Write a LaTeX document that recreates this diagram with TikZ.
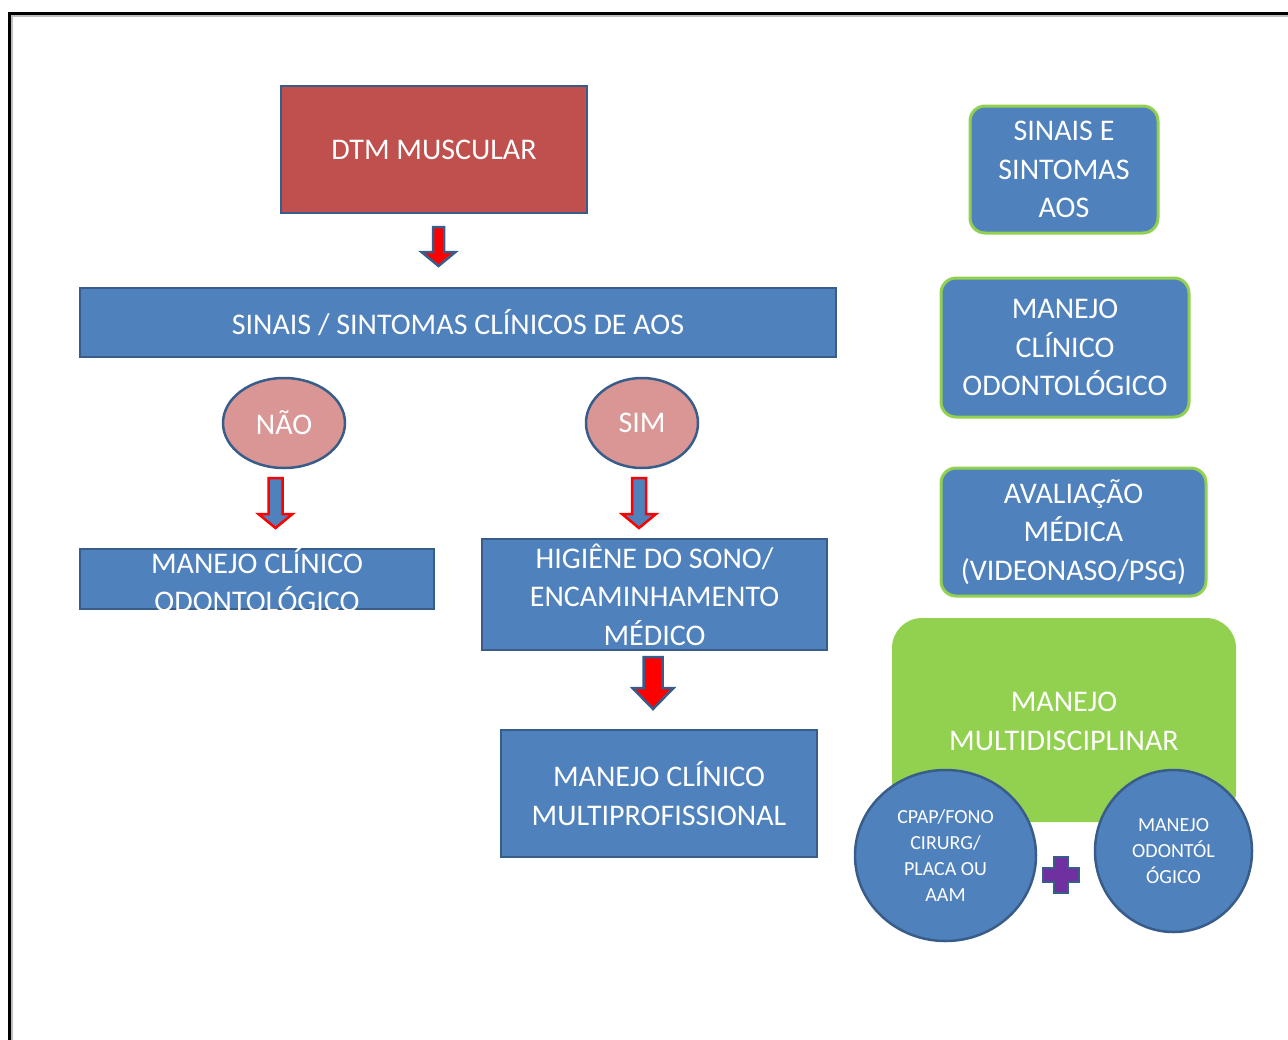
\documentclass[tikz,border=0pt]{standalone}
\usepackage{fontspec}
\setmainfont{Carlito}
\usetikzlibrary{shapes.geometric}
\definecolor{bluefill}{HTML}{4F81BD}
\definecolor{blueline}{HTML}{385D8A}
\definecolor{redfill}{HTML}{C0504D}
\definecolor{pinkfill}{HTML}{D99694}
\definecolor{greenfill}{HTML}{92D050}
\definecolor{purplefill}{HTML}{7030A0}
\definecolor{arrowred}{HTML}{FF0000}
\newcommand\myblockarrow[7]{% #1 style, #2 cx, #3 ytop, #4 yhead, #5 ytip, #6 shaft half, #7 head half
  \draw[#1] ({#2-#6},#3) -- ({#2+#6},#3) -- ({#2+#6},#4) -- ({#2+#7},#4) -- (#2,#5) -- ({#2-#7},#4) -- ({#2-#6},#4) -- cycle;}
\begin{document}
\begin{tikzpicture}[x=1pt,y=-1pt,
  every node/.style={text=white, align=center, inner sep=0pt, font=\fontsize{30}{38.5}\selectfont},
  box/.style={draw=blueline, line width=2.5pt, fill=bluefill, rectangle},
  gbox/.style={draw=greenfill, line width=3pt, fill=bluefill, rectangle, rounded corners=15pt},
  oval/.style={draw=blueline, line width=2.5pt, fill=pinkfill, ellipse},
  circ/.style={draw=blueline, line width=2.5pt, fill=bluefill, ellipse, font=\fontsize{20}{26}\selectfont},
  redarrow/.style={draw=blueline, fill=arrowred, line width=2.5pt},
  bluearrow/.style={draw=arrowred, fill=bluefill, line width=2.5pt},
  plusmark/.style={draw=blueline, fill=purplefill, line width=2.5pt}
]
\useasboundingbox (0,0) rectangle (1288,1039);
% frame
\draw[black!25, line width=1.5pt] (11.8,1040) -- (11.8,15.8) -- (1290,15.8);
\draw[black, line width=3pt] (9,1040) -- (9,13) -- (1290,13);

% left flow
\node[box, fill=redfill, minimum width=306pt, minimum height=127pt] (dtm) at (434,149.5) {DTM MUSCULAR};
\node[box, minimum width=756pt, minimum height=69pt] (sinais) at (458,322.5) {SINAIS / SINTOMAS CLÍNICOS DE AOS};
\node[oval, minimum width=122pt, minimum height=90pt] (nao) at (284,423) {NÃO};
\node[oval, minimum width=112pt, minimum height=90pt] (sim) at (642,423) {SIM};
\node[box, minimum width=354pt, minimum height=60pt] (mco) at (257,579) {};
\node (mcotext) at (257,580) {MANEJO CLÍNICO\\ODONTOLÓGICO};
\node[box, minimum width=345pt, minimum height=111pt] (hig) at (654.5,594.5) {HIGIÊNE DO SONO/\\ENCAMINHAMENTO\\MÉDICO};
\node[box, minimum width=316pt, minimum height=127pt] (mcm) at (659,793.5) {MANEJO CLÍNICO\\MULTIPROFISSIONAL};

\myblockarrow{redarrow}{438.5}{227}{252}{266}{5.5}{17}
\myblockarrow{bluearrow}{275.5}{478}{514}{528}{7}{17}
\myblockarrow{bluearrow}{639}{478}{514}{528}{7}{17}
\myblockarrow{redarrow}{653}{657}{688}{709}{9.5}{20.5}

% right column
\node[gbox, minimum width=188pt, minimum height=127pt] (sa) at (1064,169.5) {SINAIS E\\SINTOMAS\\AOS};
\node[gbox, minimum width=248pt, minimum height=139pt] (mcr) at (1065,347.5) {MANEJO\\CLÍNICO\\ODONTOLÓGICO};
\node[gbox, minimum width=265pt, minimum height=128pt] (av) at (1073.5,532) {AVALIAÇÃO\\MÉDICA\\(VIDEONASO/PSG)};
\node[fill=greenfill, rectangle, rounded corners=30pt, minimum width=344pt, minimum height=204pt] (mm) at (1064,720) {};
\node (mmtext) at (1064,721.5) {MANEJO\\MULTIDISCIPLINAR};
\node[circ, minimum width=181pt, minimum height=171pt] (cpap) at (945.5,855.5) {CPAP/FONO\\CIRURG/\\PLACA OU\\AAM};
\node[circ, minimum width=157pt, minimum height=162pt] (mo) at (1173.5,851) {MANEJO\\ODONTÓL\\ÓGICO};
\draw[plusmark] (1054,857) -- (1068,857) -- (1068,868) -- (1079,868) -- (1079,882) -- (1068,882) -- (1068,893) -- (1054,893) -- (1054,882) -- (1043,882) -- (1043,868) -- (1054,868) -- cycle;
\end{tikzpicture}
\end{document}
